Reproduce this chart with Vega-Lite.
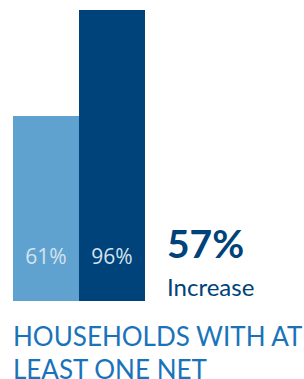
{
  "$schema": "https://vega.github.io/schema/vega-lite/v6.json",
  "width": 132,
  "height": 291,
  "autosize": "none",
  "padding": {"left": 13, "right": 159, "top": 10, "bottom": 78},
  "background": "white",
  "view": {"stroke": null},
  "title": {
    "text": ["HOUSEHOLDS WITH AT", "LEAST ONE NET"],
    "orient": "bottom",
    "anchor": "start",
    "frame": "group",
    "offset": 24,
    "font": "Lato",
    "fontSize": 26,
    "fontWeight": "normal",
    "color": "#1a73ba",
    "lineHeight": 33
  },
  "datasets": {
    "bars": [
      {"period": "Before", "pct": 61, "label": "61%"},
      {"period": "After", "pct": 96, "label": "96%"}
    ],
    "change": [
      {"period": "After", "value": "57%", "note": "Increase"}
    ]
  },
  "layer": [
    {
      "data": {"name": "bars"},
      "mark": {"type": "bar"},
      "encoding": {
        "x": {
          "field": "period",
          "type": "nominal",
          "sort": ["Before", "After"],
          "scale": {"paddingInner": 0, "paddingOuter": 0},
          "axis": null
        },
        "y": {
          "field": "pct",
          "type": "quantitative",
          "scale": {"nice": false, "zero": true},
          "axis": null
        },
        "color": {
          "field": "period",
          "type": "nominal",
          "scale": {"domain": ["Before", "After"], "range": ["#5fa2d0", "#00427a"]},
          "legend": null
        }
      }
    },
    {
      "data": {"name": "bars"},
      "mark": {"type": "text", "font": "Open Sans", "fontSize": 21, "color": "#d5e3ef", "baseline": "alphabetic", "dy": -37},
      "encoding": {
        "x": {"field": "period", "type": "nominal", "sort": ["Before", "After"]},
        "y": {"datum": 0, "type": "quantitative"},
        "text": {"field": "label"}
      }
    },
    {
      "data": {"name": "change"},
      "mark": {"type": "text", "font": "Lato", "fontWeight": "bold", "fontSize": 39, "color": "#00427a", "align": "left", "baseline": "alphabetic", "dx": 22, "dy": -43},
      "encoding": {
        "x": {"field": "period", "type": "nominal", "sort": ["Before", "After"], "bandPosition": 1},
        "y": {"datum": 0, "type": "quantitative"},
        "text": {"field": "value"}
      }
    },
    {
      "data": {"name": "change"},
      "mark": {"type": "text", "font": "Lato", "fontSize": 24, "color": "#00427a", "align": "left", "baseline": "alphabetic", "dx": 22, "dy": -5},
      "encoding": {
        "x": {"field": "period", "type": "nominal", "sort": ["Before", "After"], "bandPosition": 1},
        "y": {"datum": 0, "type": "quantitative"},
        "text": {"field": "note"}
      }
    }
  ]
}
